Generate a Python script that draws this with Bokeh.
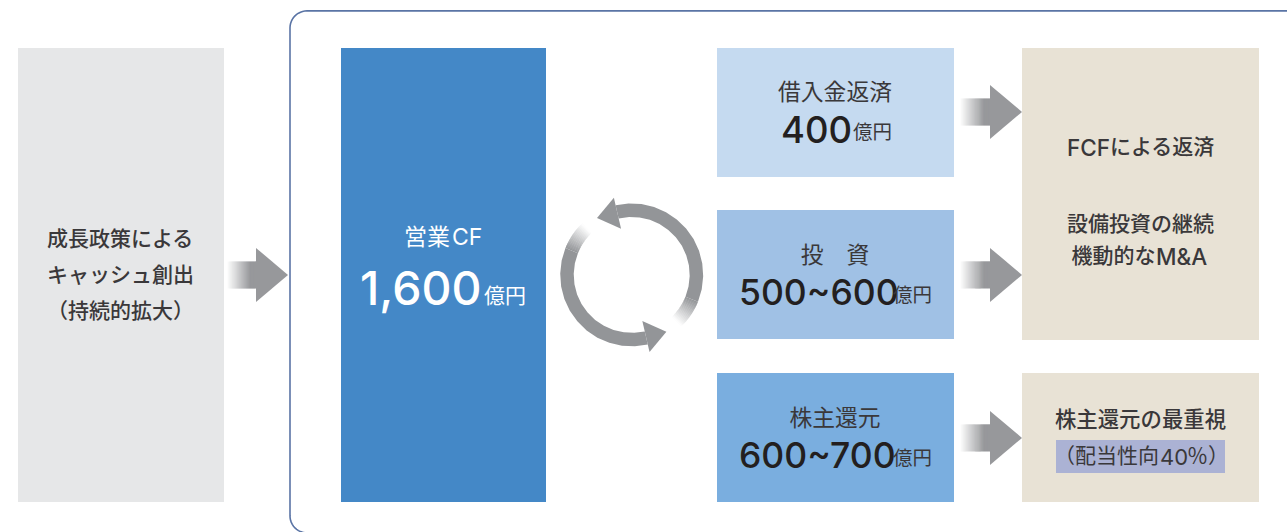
import math
from bokeh.core.properties import value
from bokeh.embed import file_html
from bokeh.models import Range1d
from bokeh.plotting import figure
from bokeh.resources import INLINE

W, H = 1287, 532
JP = "Noto Sans CJK JP"
JP_MED = "Noto Sans CJK JP Medium"
NUM = "Inter Medium"
LATIN = "Inter"

# Content of the flow
source_lines = ["成長政策による", "キャッシュ創出", "（持続的拡大）"]
cf_title = ["営業", "CF"]
cf_amount = "1,600"
unit = "億円"
use_titles = ["借入金返済", "投　資", "株主還元"]
use_amounts = ["400", "500~600", "600~700"]
outcome_fcf = ["FCF", "による返済"]
outcome_capex = "設備投資の継続"
outcome_ma = ["機動的な", "M&A"]
payout_title = "株主還元の最重視"
payout_note = ["（配当性向", "40", "％）"]

# Palette
GREY_BOX = "#e6e7e8"
CF_BLUE = "#4488c7"
USE_BLUES = ["#c5daf0", "#a0c1e5", "#7aaedf"]
BEIGE = "#e8e2d5"
NOTE_BG = "#abb2d4"
ARROW = "#97989b"
RING = "#939598"
FRAME = "#5a74a5"
INK = "#3a383a"
DARK = "#231f20"

p = figure(width=W, height=H, output_backend="svg", toolbar_location=None,
           x_range=Range1d(0.5, W + 0.5), y_range=Range1d(H + 0.6, 0.6),
           min_border=0, outline_line_color=None, background_fill_color="white")
p.axis.visible = False
p.grid.visible = False


def box(x0, y0, x1, y1, color):
    p.quad(left=[x0], right=[x1], top=[y0], bottom=[y1], fill_color=color, line_color=None)


def label(x, y, s, size, color=INK, font=JP, align="center"):
    p.text(x=[x], y=[y], text=[s], text_font=value(font), text_font_size=f"{size}px",
           text_color=color, text_align=align, text_baseline="middle")


def blend(color, t):
    r, g, b = (int(color[i:i + 2], 16) for i in (1, 3, 5))
    return "#%02x%02x%02x" % tuple(round(255 + (c - 255) * t) for c in (r, g, b))


def arrow(x0, xb, xt, yc, half_shaft=13.5, half_head=27):
    # shaft fades in from white, then a solid triangular head
    n = 28
    fade = 0.8
    step = (xb - x0) / n
    for i in range(n):
        t = min(1, (i + 0.5) / n / fade)
        p.quad(left=[x0 + i * step], right=[x0 + (i + 1) * step + 0.6],
               top=[yc - half_shaft], bottom=[yc + half_shaft],
               fill_color=blend(ARROW, t), line_color=None)
    p.patch(x=[xb, xt, xb], y=[yc - half_head, yc, yc + half_head],
            fill_color=ARROW, line_color=None)


def rounded_frame(x0, y0, x1, y1, r):
    xs, ys = [x1], [y0]
    for k in range(13):
        a = math.pi * (1.5 - k / 24)
        xs.append(x0 + r + r * math.cos(a))
        ys.append(y0 + r + r * math.sin(a))
    for k in range(13):
        a = math.pi * (1 - k / 24)
        xs.append(x0 + r + r * math.cos(a))
        ys.append(y1 - r + r * math.sin(a))
    xs.append(x1)
    ys.append(y1)
    p.line(xs, ys, line_color=FRAME, line_width=1.6)


def ring_arc(cx, cy, r0, r1, start, solid_end, fade_end):
    # solid run of the circle, followed by a tail that fades to white
    def seg(a0, a1, color):
        a = [math.radians(a0 + (a1 - a0) * k / 12) for k in range(13)]
        xs = [cx + r1 * math.cos(t) for t in a] + [cx + r0 * math.cos(t) for t in reversed(a)]
        ys = [cy + r1 * math.sin(t) for t in a] + [cy + r0 * math.sin(t) for t in reversed(a)]
        p.patch(xs, ys, fill_color=color, line_color=None)

    seg(start, solid_end, RING)
    n = 24
    step = (fade_end - solid_end) / n
    for i in range(n):
        seg(solid_end + i * step, solid_end + (i + 1) * step + 0.4, blend(RING, 1 - (i + 0.5) / n))
    # arrow head at the start of the run
    ra = math.radians(start)
    rm = (r0 + r1) / 2 - 1.5
    bx, by = cx + rm * math.cos(ra), cy + rm * math.sin(ra)
    tx, ty = -math.sin(ra), math.cos(ra)   # clockwise tangent on screen
    nx, ny = math.cos(ra), math.sin(ra)
    p.patch([bx + nx * 16, bx - tx * 21, bx - nx * 16],
            [by + ny * 16, by - ty * 21, by - ny * 16],
            fill_color=RING, line_color=None)


# Outer frame runs off the right edge
rounded_frame(290, 11, W + 10, H + 1, 17)

# Source box and inflow arrow
box(18, 48, 224, 502, GREY_BOX)
for s, y in zip(source_lines, [237, 273, 309]):
    label(120.5, y, s, 21, font=JP_MED)
arrow(227, 256, 288, 275)

# Operating cash flow column
box(341, 48, 546, 502, CF_BLUE)
label(404, 235.5, cf_title[0], 23, color="white", align="left")
label(452, 237, cf_title[1], 23, color="white", font=LATIN, align="left")
label(360, 288.5, cf_amount, 46.5, color="white", font=NUM, align="left")
label(484, 294.5, unit, 21, color="white", align="left")

# Circular arrows
ring_arc(631.7, 275, 58, 71.5, -103, 22, 46)
ring_arc(631.7, 275, 58, 71.5, 77, 202, 226)

# Uses of the cash
tops = [48, 210, 373]
title_ys = [90.5, 253.5, 416.5]
amount_ys = [129.5, 292.5, 455.5]
amount_xs = [781, 739, 739]
unit_xs = [853, 893, 893]
unit_ys = [131, 294, 457]
arrow_ys = [112, 275, 438]
amount_sizes = [36.5, 35.5, 35.5]
for c, top, s, a, ty, ay, ax, ux, uy, ary, sz in zip(USE_BLUES, tops, use_titles, use_amounts,
                                                     title_ys, amount_ys, amount_xs, unit_xs,
                                                     unit_ys, arrow_ys, amount_sizes):
    box(717, top, 954, top + 129, c)
    label(835, ty, s, 22.8)
    label(ax, ay, a, sz, color=DARK, font=NUM, align="left")
    label(ux, uy, unit, 19.5, align="left")
    arrow(960, 990, 1022, ary)

# Outcomes
box(1022, 48, 1259, 340, BEIGE)
label(1067, 148, outcome_fcf[0], 22.5, font=NUM, align="left")
label(1110, 145.5, outcome_fcf[1], 21, font=JP_MED, align="left")
label(1140.5, 222.5, outcome_capex, 21, font=JP_MED)
label(1071.5, 254.5, outcome_ma[0], 21, font=JP_MED, align="left")
label(1156, 257, outcome_ma[1], 22.5, font=NUM, align="left")
box(1022, 373, 1259, 502, BEIGE)
label(1140.5, 418, payout_title, 21.4, font=JP_MED)
box(1056, 440, 1225, 473, NOTE_BG)
label(1054, 454, payout_note[0], 21, align="left")
label(1160, 457, payout_note[1], 22, font=LATIN, align="left")
label(1187, 454, payout_note[2], 21, align="left")

open("out.html", "w").write(file_html(p, INLINE))
